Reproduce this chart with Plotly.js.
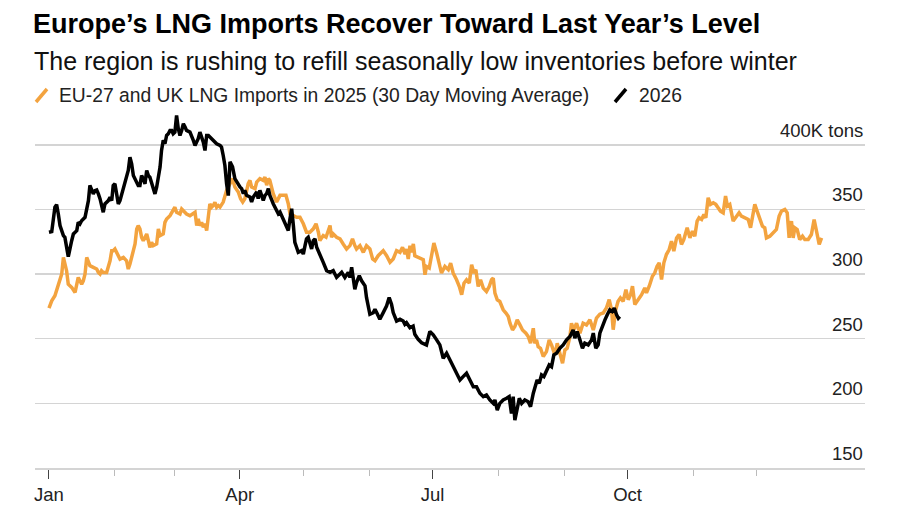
<!DOCTYPE html>
<html>
<head>
<meta charset="utf-8">
<script src="https://cdn.plot.ly/plotly-3.0.1.min.js"></script>
<style>
html,body{margin:0;padding:0;background:#fff;}
#chart{width:900px;height:510px;}
</style>
</head>
<body>
<div id="chart"></div>
<script>
// ---- Data (day of year offset from Jan 1, value in thousand tons) ----
const orangeDays = [0,1.3,2.8,4.4,6.0,6.8,7.5,8.3,9.1,9.9,10.7,12.3,13.1,13.8,14.6,15.4,16.2,17.0,17.8,18.6,19.3,20.9,22.5,23.3,24.1,24.8,25.6,27.2,28.8,29.6,30.3,31.1,31.9,32.7,33.5,35.1,36.6,37.4,38.2,39.8,40.6,41.4,42.1,42.9,43.7,44.5,45.3,46.1,46.9,47.6,48.4,49.2,50.8,51.6,52.4,53.9,54.7,55.5,57.1,58.6,59.4,60.2,61.8,62.6,63.4,64.9,66.5,68.1,68.9,69.7,70.4,71.2,72.0,72.8,73.6,74.4,75.2,75.9,76.7,77.5,78.3,79.1,79.9,
80.7,82.2,83.8,85.4,86.6,87.7,89.3,90.4,91.4,92.4,94.0,94.8,95.6,97.2,98.0,99.5,101.1,101.9,102.7,103.5,104.2,105.8,107.4,109.0,110.5,111.8,112.9,113.7,115.3,116.8,118.4,120.0,121.5,123.1,124.7,126.0,127.1,127.8,129.4,130.7,131.8,132.6,133.3,134.1,135.7,137.3,138.8,140.4,142.0,143.2,144.3,145.1,146.7,148.3,149.8,151.4,152.7,153.8,155.3,157.7,159.3,160.9,162.4,164.0,165.6,166.8,168.0,168.7,169.5,170.3,171.1,171.9,172.6,174.2,
175.0,176.6,177.4,178.1,179.4,180.5,181.6,182.9,184.1,185.2,186.8,188.4,189.5,190.7,192.3,193.6,194.7,195.8,197.0,198.3,199.4,200.5,201.4,202.5,203.6,204.9,206.4,207.7,208.8,209.6,210.4,211.5,212.7,214.3,215.6,216.7,217.5,218.7,219.8,220.9,222.2,223.4,225.0,226.1,227.2,228.5,229.2,230.0,230.8,231.9,233.2,234.7,236.0,237.1,238.7,239.8,241.0,242.3,243.4,244.5,245.8,246.5,247.6,248.9,250.5,252.0,253.6,255.2,256.8,258.3,
259.9,261.5,263.0,264.3,265.4,266.2,267.4,268.5,269.6,270.9,272.2,273.3,274.4,275.3,276.4,278.0,279.6,281.1,281.9,283.2,284.7,285.8,286.9,287.9,289.0,290.1,291.3,292.6,293.7,294.8,296.1,297.3,298.4,299.5,301.1,302.4,303.6,304.7,305.8,306.7,307.9,309.0,309.9,311.0,312.1,313.4,314.6,315.7,316.8,318.1,319.2,320.1,321.2,322.8,324.4,325.6,326.7,328.3,329.9,331.0,331.9,333.0,334.1,335.4,336.6,337.7,338.5,340.1,341.7,343.2,344.5,345.6,347.2,348.3,349.2,350.3,351.1,351.9,353.0,354.2,355.5,356.6,358.2,359.7,361.0,362.1,363.4,364.5];
const orangeVals = [273.6,279.3,283.2,290.9,300,312.9,309,302.6,292.2,290.9,289.7,285.8,290.9,297.4,294.8,292.2,294.8,300,312.9,310.3,306.5,305.2,303.9,301.3,300,302.6,301.3,301.3,310.3,318.1,318.1,319.4,316.8,312.9,311.6,312.9,310.3,303.9,307.8,318.1,323.3,334.9,337.5,334.9,328.4,325.8,328.4,331,325.8,320.7,324.5,322,323.3,334.9,329.7,331,340,342.6,345.2,349.1,351.7,347.8,346.5,350.4,349.1,346.5,345.2,346.5,347.8,337.5,342.6,337.5,340,336.2,338.8,333.6,346.5,354.3,351.7,353,355.6,351.7,353,
351.8,355.7,364.8,369.9,373.8,367.4,363.5,358.3,355.7,358.3,369.9,372.5,367.4,366.1,371.2,373.8,372.5,375.1,368.7,373.8,372.5,362.2,355.7,360.9,360.9,360.9,354.4,346.6,345.3,344,344,338.9,332.4,332.4,335,338.9,332.4,325.9,329.8,328.5,333.7,337.6,328.5,331.1,328.5,327.2,323.3,319.4,322,327.2,322,319.4,322,316.8,322,319.4,311.7,310.4,314.2,318.1,314.2,309.1,311.7,318.1,316.8,320.7,315.5,319.4,311.7,322,316.8,323.3,314.2,313,
312.4,311.1,299.5,305.9,304.7,316.3,324,316.3,308.5,300.8,305.9,303.4,308.5,300.8,295.6,290.4,284,293,295.6,293,307.2,300.8,303.4,290.4,295.6,289.1,286.5,290.4,295.6,296.9,285.3,280.1,278.8,272.4,269.8,267.2,262,256.8,259.4,264.6,260.7,256.8,254.3,251.7,246.5,258.1,246.5,249.1,243.9,242.6,236.2,240,249.1,245.2,237.5,246.5,238.8,231,241.3,242.6,251.7,262,256.8,262,254.3,262,260.7,264.6,256.8,265.9,
269,269.9,273.8,280.2,272.5,257,272.5,278.9,281.5,278.9,288,280.2,284.1,290.6,276.4,280.2,284.1,289.3,285.4,290.6,298.3,300.9,306.1,308.7,295.7,308.7,315.1,319,325.5,317.7,328,330.6,322.9,326.7,335.8,328,333.2,329.3,341,343.5,342.2,346.1,343.5,359,353.9,355.2,353.9,351.3,348.7,347.4,360.3,352.6,353.9,341,344.8,347.4,344.8,343.5,342.2,335.8,344.8,353.9,348.7,342.2,337.1,335.8,328,329.3,331.9,334.5,344.8,348.7,350,347.4,328,341,328,335.8,334.5,326.7,329.3,326.7,326.7,330.6,342.2,331.9,322.9,328];

const blackDays = [0,1.3,2.8,3.6,4.4,5.2,6.0,6.8,7.5,9.1,10.7,11.5,13.1,13.8,14.6,15.4,17.0,18.6,19.3,20.1,20.9,21.7,22.5,23.3,24.1,25.6,26.4,28.0,28.8,29.6,30.3,31.1,31.9,32.7,33.5,34.3,35.1,35.8,36.6,37.4,38.2,39.0,39.8,40.6,41.4,42.1,42.9,43.7,44.5,45.3,46.1,46.9,47.6,49.2,50.0,50.8,51.6,52.4,53.1,53.9,54.7,55.5,56.3,57.1,57.9,58.6,59.4,60.2,61.0,61.8,62.6,63.4,64.2,64.9,66.5,67.3,68.1,68.9,69.7,70.4,71.2,72.0,72.8,73.6,74.4,75.2,75.9,77.5,79.1,80.7,81.4,82.2,83.0,83.8,84.6,
85.4,86.6,87.7,88.5,89.3,90.1,90.9,91.7,92.4,93.2,94.8,95.6,96.4,98.0,98.7,99.5,100.3,101.1,101.9,102.7,103.5,104.2,105.8,106.6,108.2,109.0,110.5,112.1,112.9,113.7,114.5,115.3,116.0,116.8,117.6,119.2,120.0,120.8,121.5,122.3,123.1,123.9,124.7,125.5,126.3,127.8,129.4,131.0,132.6,134.1,135.7,137.3,138.1,139.6,141.2,142.0,142.8,143.5,144.3,145.1,146.4,147.5,149.1,149.8,150.6,151.4,153.0,153.8,154.6,156.1,157.7,159.3,160.5,161.6,162.4,164.0,165.6,167.1,167.9,168.7,170.3,171.8,172.6,174.2,175.8,
178.1,179.7,181.3,182.9,184.4,186.0,187.6,189.2,190.7,192.3,193.9,195.4,197.0,198.6,200.2,201.7,203.3,204.9,206.4,208.0,209.6,210.4,211.5,212.7,214.3,215.9,217.1,218.2,219.0,219.8,220.6,221.9,223.0,224.5,226.1,227.2,228.5,229.2,230.3,231.3,232.4,233.5,234.7,236.0,237.1,238.2,239.5,241.0,242.6,244.2,245.8,247.3,248.1,249.2,250.5,251.7,252.8,254.4,256.0,256.8,258.0,259.1,259.9,261.2,262.3,263.4,264.6,265.7,266.7,267.8,268.6,269.3];
const blackVals = [332.3,332.8,351.7,353.7,346.5,337.5,333.6,329.7,328.4,313.4,325.8,331,333.6,340,338.8,341.3,343.9,356.8,368.5,365.9,362,364.6,365.1,362,358.1,347.8,354.3,356.8,359.4,356.8,368.5,369.8,363.3,354.3,356.8,362,367.2,371.1,376.2,380.1,390.4,385.3,376.2,373.6,369.8,368.5,368.5,376.2,373.6,369.8,380.1,376.2,374.9,365.9,362,367.2,376.2,382.7,395.6,403.4,400.8,407.2,408.5,411.1,411.1,408.5,409.8,422.7,412.4,407.2,411.1,416.3,413.7,411.1,409.8,407.2,403.4,399.5,402.1,404.7,409.8,405.9,402.1,395.6,407.2,407.2,405.9,403.4,400.8,399.5,398.2,391.7,384,369.8,360.7,
386.8,382.9,373.8,371.2,368.7,367.4,366.1,362.2,364.8,360.9,359.6,355.7,359.6,363.5,358.3,364.8,360.9,357,360.9,362.2,366.1,360.9,354.4,351.8,346.6,347.9,342.7,337.6,333.7,342.7,350.5,337.6,324.6,320.7,316.8,318.1,315.5,322,327.2,328.5,324.6,319.4,325.9,327.2,320.7,315.5,309.1,302.6,301.3,302.6,297.4,300,301.3,297.4,301.3,297.4,305.2,297.4,288.3,293.5,298.7,294.8,290.9,281.9,274.1,268.9,270.2,272.8,270.2,265,270.2,275.4,281.9,276.7,270.2,263.7,265,263.7,261.1,262.4,258.5,259.8,253.4,249.5,246.9,
245.2,255.6,253,249.1,245.2,234.9,238.8,233.6,228.4,223.3,218.1,220.7,223.3,218.1,212.9,212.9,207.8,205.2,206.5,202.6,200,202.6,194.8,200,202.6,203.9,205.2,192.2,205.2,187.1,194.8,203.9,200,202.6,201.3,197.4,207.8,212.9,218.1,215.5,222,220.7,225.8,229.7,228.4,237.5,238.8,242.6,245.2,249.1,251.7,256.8,250.4,255.6,249.1,242.6,246.5,245.2,249.1,254.3,242.6,245.2,254.3,260.7,264.6,268.5,272.4,271.1,273.6,268.5,265.9,267.2];

const majorTickDays = [0, 90, 181, 273];
const majorTickLabels = ['Jan', 'Apr', 'Jul', 'Oct'];
const minorTickDays = [31, 59, 120, 151, 212, 243, 304, 334];
const yTickVals = [150, 200, 250, 300, 350, 400];
const yTickLabels = ['150', '200', '250', '300', '350', '400K tons'];

const seriesNames = ['EU-27 and UK LNG Imports in 2025 (30 Day Moving Average)', '2026'];
const titleText = 'Europe’s LNG Imports Recover Toward Last Year’s Level';
const subtitleText = 'The region is rushing to refill seasonally low inventories before winter';

// ---- Layout geometry ----
const W = 900, H = 510;
const M = {l: 35, r: 35, t: 106, b: 42};
const ORANGE = '#F3A33F';
const FONT = 'Liberation Sans, Arial, Helvetica, sans-serif';
const px2x = px => (px - M.l) / (W - M.l - M.r);
const px2y = py => (H - M.b - py) / (H - M.t - M.b);

const traces = [
  {x: orangeDays, y: orangeVals, type: 'scatter', mode: 'lines', name: seriesNames[0],
   line: {color: ORANGE, width: 3.5, shape: 'linear'}, hoverinfo: 'skip'},
  {x: blackDays, y: blackVals, type: 'scatter', mode: 'lines', name: seriesNames[1],
   line: {color: '#000000', width: 3.5, shape: 'linear'}, hoverinfo: 'skip'}
];

const annotations = yTickVals.map((v, i) => ({
  xref: 'paper', yref: 'y', x: 1, y: v, xanchor: 'right', yanchor: 'bottom',
  yshift: 2, text: yTickLabels[i], showarrow: false,
  font: {family: FONT, size: 18.5, color: '#222'}
}));

annotations.push({
  xref: 'paper', yref: 'paper', x: px2x(32), y: px2y(61), xanchor: 'left', yanchor: 'middle',
  text: subtitleText, showarrow: false, font: {family: FONT, size: 25, color: '#111'}
});
annotations.push({
  xref: 'paper', yref: 'paper', x: px2x(57), y: px2y(96), xanchor: 'left', yanchor: 'middle',
  text: seriesNames[0], showarrow: false, font: {family: FONT, size: 19.3, color: '#222'}
});
annotations.push({
  xref: 'paper', yref: 'paper', x: px2x(637), y: px2y(96), xanchor: 'left', yanchor: 'middle',
  text: seriesNames[1], showarrow: false, font: {family: FONT, size: 19.3, color: '#222'}
});

const shapes = [
  {type: 'line', xref: 'paper', yref: 'paper', x0: px2x(36), y0: px2y(102), x1: px2x(47), y1: px2y(89),
   line: {color: ORANGE, width: 3.5}},
  {type: 'line', xref: 'paper', yref: 'paper', x0: px2x(615), y0: px2y(102), x1: px2x(626), y1: px2y(89),
   line: {color: '#000', width: 3.5}}
];

const layout = {
  width: W, height: H,
  margin: M,
  paper_bgcolor: '#fff', plot_bgcolor: '#fff',
  showlegend: false,
  title: {
    text: '<b>' + titleText + '</b>',
    xref: 'container', x: 33 / W, xanchor: 'left',
    yref: 'container', y: 1 - 24 / H, yanchor: 'middle',
    font: {family: FONT, size: 27, color: '#000'}
  },
  xaxis: {
    range: [-6.6, 385],
    tickmode: 'array', tickvals: majorTickDays, ticktext: majorTickLabels,
    ticks: 'outside', ticklen: 9, tickwidth: 1, tickcolor: '#444',
    showgrid: false, zeroline: false,
    showline: true, linecolor: '#d4d4d4', linewidth: 1.5,
    tickfont: {family: FONT, size: 18.5, color: '#222'},
    minor: {tickmode: 'array', tickvals: minorTickDays, ticks: 'outside', ticklen: 6,
            tickwidth: 1, tickcolor: '#bbb', showgrid: false},
    fixedrange: true
  },
  yaxis: {
    range: [150, 430],
    tickmode: 'array', tickvals: yTickVals,
    showticklabels: false, ticks: '',
    showgrid: true, gridcolor: '#d4d4d4', gridwidth: 1.5,
    zeroline: false, showline: false, fixedrange: true
  },
  annotations: annotations,
  shapes: shapes
};

Plotly.newPlot('chart', traces, layout, {displayModeBar: false, staticPlot: true});
</script>
</body>
</html>
